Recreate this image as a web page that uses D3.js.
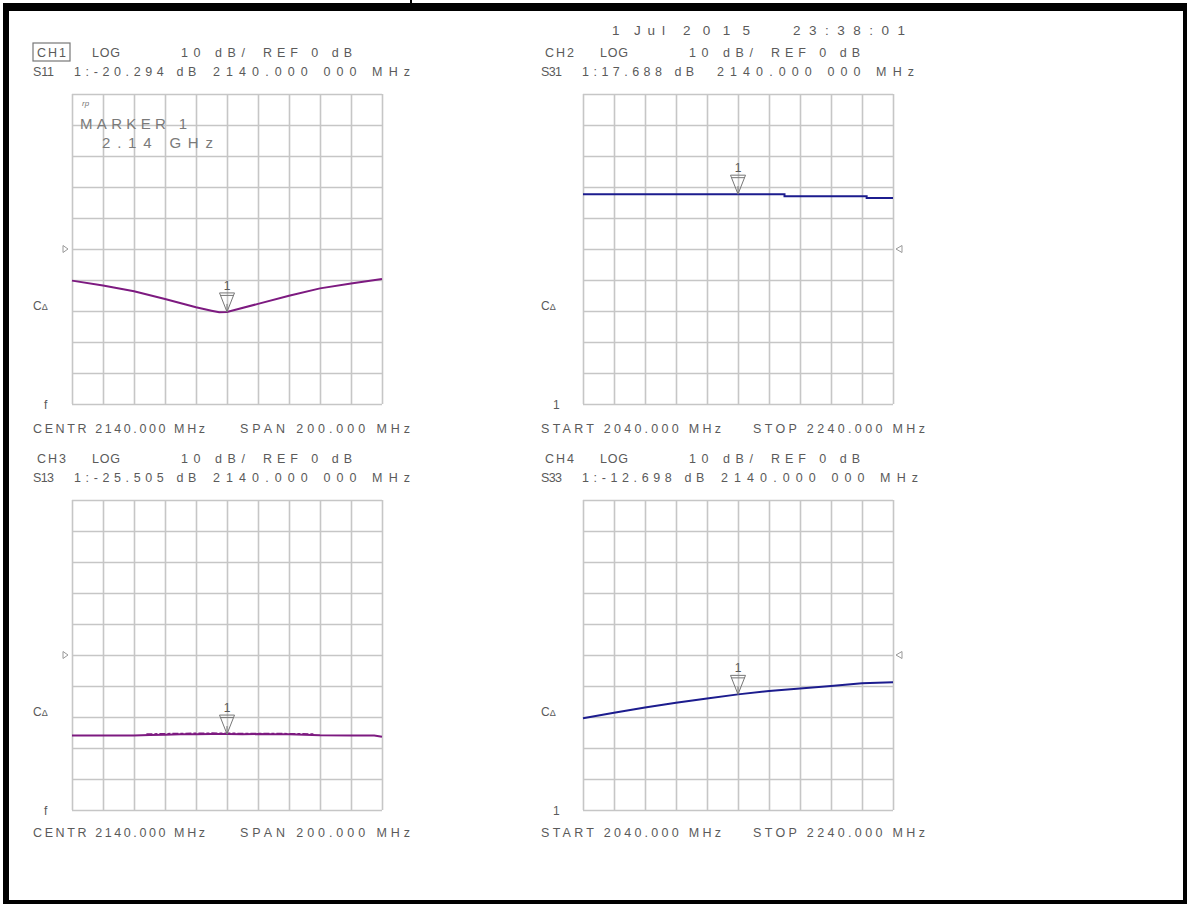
<!DOCTYPE html>
<html><head><meta charset="utf-8">
<script src="https://cdn.jsdelivr.net/npm/d3@7"></script>
<style>
body{margin:0;background:#fff;overflow:hidden;}
svg text{font-family:"Liberation Sans",Arial,sans-serif;fill:#5a5a5a;}
</style></head><body>
<svg id="c" width="1187" height="904"></svg>
<script>
// ---------------- data ----------------
const dateStamp = ["1", "Jul", "2015", "23:38:01"];
const channels = ["CH1", "CH2", "CH3", "CH4"];
const params = ["S11", "S31", "S13", "S33"];
const formatLabels = ["LOG", "10 dB/", "REF 0 dB"];
const markerReadouts = ["1:-20.294 dB", "1:17.688 dB", "1:-25.505 dB", "1:-12.698 dB"];
const markerValues = [-20.294, 17.688, -25.505, -12.698];
const markerFreq = 2140;
const markerFreqLabel = "2140.000 000 MHz";
const sweepLabels = [
  ["CENTR 2140.000 MHz", "SPAN 200.000 MHz"],
  ["START 2040.000 MHz", "STOP 2240.000 MHz"],
  ["CENTR 2140.000 MHz", "SPAN 200.000 MHz"],
  ["START 2040.000 MHz", "STOP 2240.000 MHz"]
];
const cornerLabels = ["f", "1", "f", "1"];
const markerInfo = ["MARKER 1", "2.14 GHz"];
const freqDomain = [2040, 2240];
const dbDomain = [50, -50];      // REF 0 dB at centre, 10 dB/div
const freqTicks = [2040, 2060, 2080, 2100, 2120, 2140, 2160, 2180, 2200, 2220, 2240];
const dbTicks = [50, 40, 30, 20, 10, 0, -10, -20, -30, -40, -50];

// S11 (CH1)
const s11Freq = [2040, 2060, 2080, 2100, 2120, 2130, 2135, 2140, 2160, 2180, 2200, 2220, 2240];
const s11 = [-10.2, -11.8, -13.6, -16.1, -18.8, -19.9, -20.4, -20.3, -17.7, -15.1, -12.7, -11.1, -9.7];
// S31 (CH2) – stepped trace
const s31Freq = [2040, 2170, 2223, 2240];
const s31 = [17.69, 17.0, 16.45, 16.45];
// S13 (CH3)
const s13Freq = [2040, 2060, 2080, 2090, 2100, 2110, 2120, 2130, 2140, 2150, 2160, 2170, 2180, 2190, 2200, 2220, 2235, 2240];
const s13 = [-26.0, -26.0, -26.0, -25.8, -25.7, -25.6, -25.6, -25.5, -25.5, -25.6, -25.5, -25.6, -25.6, -25.7, -25.9, -26.0, -26.0, -26.4];
// S13 noise band (upper edge of the fuzzy section)
const s13NoiseFreq = [2088, 2110, 2130, 2150, 2170, 2197];
const s13Noise = [-25.5, -25.3, -25.2, -25.3, -25.3, -25.5];
// S33 (CH4)
const s33Freq = [2040, 2060, 2080, 2100, 2120, 2140, 2160, 2180, 2200, 2220, 2240];
const s33 = [-20.4, -18.6, -16.9, -15.4, -14.0, -12.7, -11.6, -10.8, -10.0, -9.1, -8.8];

const traceFreqs = [s11Freq, s31Freq, s13Freq, s33Freq];
const traceVals = [s11, s31, s13, s33];

// ---------------- layout ----------------
const svg = d3.select("#c");
const GRID = 310;
const panels = [
  {gx: 72, gy: 94, side: "L", color: "#7d1a80", stepped: false, fy: 339},
  {gx: 583, gy: 94, side: "R", color: "#1c1c8e", stepped: true, fy: 339},
  {gx: 72, gy: 500, side: "L", color: "#7d1a80", stepped: false, fy: 337},
  {gx: 583, gy: 500, side: "R", color: "#1c1c8e", stepped: false, fy: 337}
];

// frame
svg.append("rect").attr("x", 0).attr("y", 0).attr("width", 1187).attr("height", 904).attr("fill", "#fff");
svg.append("rect").attr("x", 3).attr("y", 3).attr("width", 1184).attr("height", 8).attr("fill", "#000");
svg.append("rect").attr("x", 3).attr("y", 3).attr("width", 6).attr("height", 901).attr("fill", "#000");
svg.append("rect").attr("x", 1183).attr("y", 3).attr("width", 4).attr("height", 901).attr("fill", "#000");
svg.append("rect").attr("x", 3).attr("y", 900).attr("width", 1184).attr("height", 4).attr("fill", "#000");
svg.append("rect").attr("x", 410).attr("y", 0).attr("width", 2).attr("height", 4).attr("fill", "#000");

// spaced text helper
function spaced(g, str, x, y, len, size, fill) {
  const t = g.append("text").attr("x", x).attr("y", y).text(str)
    .style("font-size", (size || 12.5) + "px");
  if (len) t.attr("textLength", len).attr("lengthAdjust", "spacing");
  if (fill) t.style("fill", fill);
  return t;
}

// date stamp
const dateX = [612, 634, 683, 793];
const dateW = [6, 31, 67, 112];
dateStamp.forEach((s, i) => spaced(svg, s, dateX[i], 35, dateW[i], 13.5));

panels.forEach((p, i) => {
  const g = svg.append("g").attr("transform", `translate(${p.gx},${p.gy})`);
  const x = d3.scaleLinear().domain(freqDomain).range([0, GRID]);
  const y = d3.scaleLinear().domain(dbDomain).range([0, GRID]);

  // grid from axes
  const gxAxis = g.append("g").call(d3.axisBottom(x).tickValues(freqTicks).tickSize(GRID).tickFormat(""));
  const gyAxis = g.append("g").call(d3.axisRight(y).tickValues(dbTicks).tickSize(GRID).tickFormat(""));
  [gxAxis, gyAxis].forEach(a => {
    a.select(".domain").remove();
    a.selectAll("line").attr("stroke", "#c6c6c6").attr("stroke-width", 1.6);
  });

  // header
  const hx = p.side === "L" ? -39 : -42;
  const l1 = -37, l2 = -18.5;
  if (i === 0) {
    g.append("rect").attr("x", hx).attr("y", l1 - 14).attr("width", 37).attr("height", 18)
      .attr("fill", "none").attr("stroke", "#777").attr("stroke-width", 1.2);
  }
  spaced(g, channels[i], hx + 4, l1, 29);
  spaced(g, formatLabels[0], hx + 59, l1, 28);
  spaced(g, formatLabels[1], hx + 148, l1, 64);
  spaced(g, formatLabels[2], hx + 230, l1, 89);
  spaced(g, params[i], hx, l2, 21);
  spaced(g, markerReadouts[i], hx + 41, l2, markerReadouts[i].length * 10.2);
  spaced(g, markerFreqLabel, hx + 180 - (markerReadouts[i].length === 11 ? 4 : 0), l2, 197);

  // sweep label
  spaced(g, sweepLabels[i][0], hx, p.fy, p.side === "L" ? 172 : 180);
  spaced(g, sweepLabels[i][1], hx + (p.side === "L" ? 207 : 212), p.fy, p.side === "L" ? 170 : 172);

  // left labels
  const cy = y(0) + 61;
  const ct = g.append("text").attr("x", hx).attr("y", cy).style("font-size", "12px");
  ct.append("tspan").text("C");
  ct.append("tspan").text("\u0394").style("font-size", "9px");
  g.append("text").attr("x", hx + (p.side === "L" ? 11 : 12)).attr("y", GRID + 5).text(cornerLabels[i])
    .style("font-size", "12px");

  // reference position marker
  const ry = y(0);
  if (p.side === "L") {
    g.append("path").attr("d", `M${-9},${ry - 3.5} L${-4},${ry} L${-9},${ry + 3.5} Z`)
      .attr("fill", "none").attr("stroke", "#999").attr("stroke-width", 1);
  } else {
    g.append("path").attr("d", `M${GRID + 9},${ry - 3.5} L${GRID + 3},${ry} L${GRID + 9},${ry + 3.5} Z`)
      .attr("fill", "none").attr("stroke", "#999").attr("stroke-width", 1);
  }

  // trace
  const pts = traceFreqs[i].map((f, k) => [f, traceVals[i][k]]);
  const line = d3.line().x(d => x(d[0])).y(d => y(d[1]))
    .curve(p.stepped ? d3.curveStepAfter : d3.curveLinear);
  if (i === 2) {
    const npts = s13NoiseFreq.map((f, k) => [f, s13Noise[k]]);
    g.append("path").attr("d", line(npts)).attr("fill", "none")
      .attr("stroke", p.color).attr("stroke-width", 1.5).attr("stroke-dasharray", "6 2 3 2");
  }
  g.append("path").attr("d", line(pts)).attr("fill", "none")
    .attr("stroke", p.color).attr("stroke-width", 2);

  // marker
  const mx = x(markerFreq), my = y(markerValues[i]);
  const mg = g.append("g").attr("transform", `translate(${mx},${my})`);
  mg.append("path").attr("d", "M-7.5,-19 L7.5,-19 L0,0 Z M-7,-16.5 L7,-16.5 M0,-8 L0,0")
    .attr("fill", "none").attr("stroke", "#777").attr("stroke-width", 1);
  mg.append("text").attr("x", 0).attr("y", -22).attr("text-anchor", "middle").text("1")
    .style("font-size", "12px");

  if (i === 0) {
    g.append("text").attr("x", 10).attr("y", 12).text("rp").style("font-size", "8px")
      .style("font-style", "italic").style("fill", "#777");
    spaced(g, markerInfo[0], 8, 35, 107, 15, "#7a7a7a");
    spaced(g, markerInfo[1], 30, 54, 111, 15, "#7a7a7a");
  }
});
</script>
</body></html>
